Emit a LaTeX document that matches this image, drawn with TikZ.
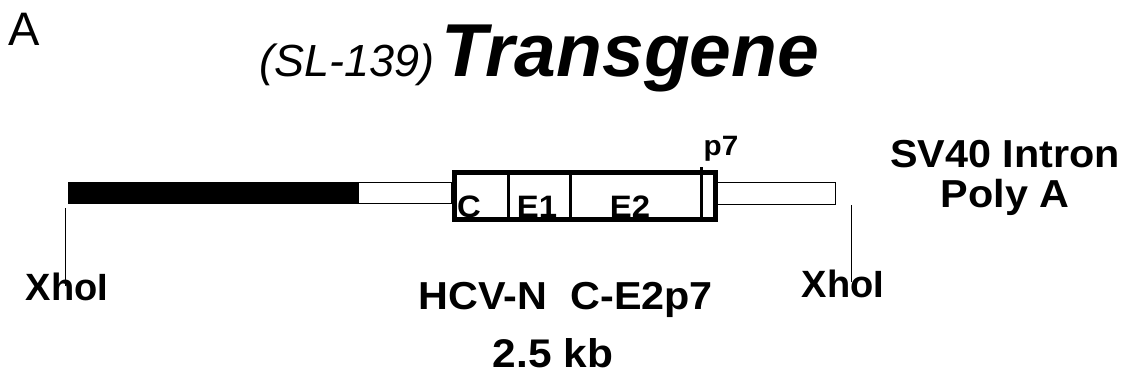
\documentclass[tikz,border=0pt]{standalone}
\usepackage{fontspec}
\setmainfont{Liberation Sans}
\newfontfamily\widebold[FakeStretch=1.06]{Liberation Sans Bold}
\usetikzlibrary{positioning}
\newcommand{\ptsize}[1]{\fontsize{#1}{#1}\selectfont}

\begin{document}
\begin{tikzpicture}[x=1pt,y=-1pt,every node/.style={inner sep=0pt},
  biglabel/.style={font=\widebold\ptsize{39},anchor=base},
  seglabel/.style={font=\widebold\ptsize{31},anchor=base},
  sitelabel/.style={font=\bfseries\ptsize{38},anchor=base}]
  \useasboundingbox (0,0) rectangle (1135,383);
  % heading
  \node[anchor=base west,font=\ptsize{47}] (panel) at (8,45) {A};
  \node[anchor=base east,font=\itshape\ptsize{45}] (line) at (435,76) {(SL-139)};
  \node[anchor=base west,font=\bfseries\itshape\ptsize{75}] (title) at (441,76) {Transgene};
  % construct
  \fill (68,182) rectangle (358,204);
  \draw[line width=1pt] (358,182.5) rectangle (451,203.5);
  \draw[line width=1pt] (717,182.5) rectangle (835,204.5);
  \draw[line width=5pt] (454.5,172.5) rectangle (715.5,219.5);
  \draw[line width=3pt] (508,172) -- (508,219);
  \draw[line width=3pt] (570,172) -- (570,219);
  \draw[line width=3pt] (701,167) -- (701,219);
  \node[seglabel] (segC) at (469,217) {C};
  \node[seglabel] (segE1) at (537,217) {E1};
  \node[seglabel] (segE2) at (630,217) {E2};
  \node[font=\widebold\ptsize{28},anchor=base] (p7) at (721,155) {p7};
  % restriction sites
  \coordinate (cutL) at (65,208);
  \coordinate (cutR) at (851,205);
  \node[sitelabel] (xhoL) at (67,300) {XhoI};
  \node[sitelabel] (xhoR) at (843,297) {XhoI};
  \draw[line width=1pt] (cutL) -- ([yshift=-14pt]cutL |- xhoL.north);
  \draw[line width=1pt] (cutR) -- ([yshift=-13pt]cutR |- xhoR.north);
  % annotations
  \node[biglabel] (sv40) at (1005,167) {SV40 Intron};
  \node[biglabel] (polya) at (1005,207) {Poly A};
  \node[biglabel] (hcv) at (566,309) {HCV-N\ \ C-E2p7};
  \node[biglabel,font=\widebold\ptsize{40}] (size) at (553,367) {2.5 kb};
\end{tikzpicture}
\end{document}
